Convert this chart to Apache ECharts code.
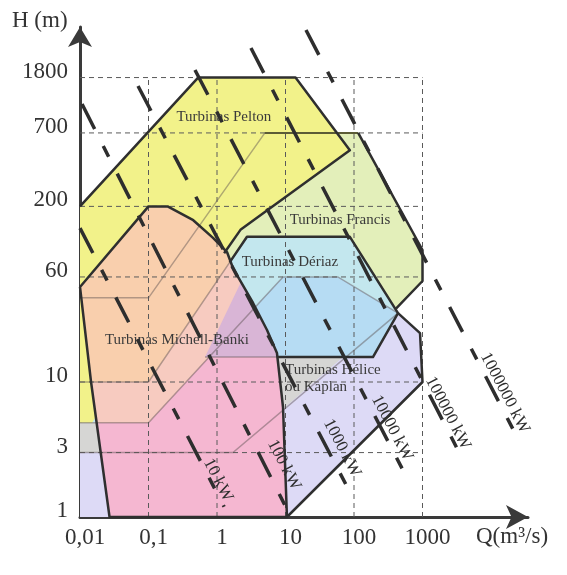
<!DOCTYPE html>
<html><head><meta charset="utf-8">
<script src="https://cdn.jsdelivr.net/npm/echarts@6/dist/echarts.min.js"></script>
<style>html,body{margin:0;padding:0;background:#fff}#c{width:567px;height:575px}</style>
</head><body><div id="c"></div>
<script>
// ---------- axis ticks ----------
const qTicks = [0.01, 0.1, 1, 10, 100, 1000];
const qTickLabels = ['0,01', '0,1', '1', '10', '100', '1000'];
const hTicks = [1, 3, 10, 60, 200, 700, 1800];
const hTickLabels = ['1', '3', '10', '60', '200', '700', '1800'];

// ---------- turbine regions (Q m3/s, H m) ----------
const pelton = [[0.01,200],[0.53,1800],[14,1800],[87,520],[2.2,134],[1.27,90],[0.105,24],[0.015,5],[0.01,5]];
const francis = [[0.01,42],[0.1,42],[5,700],[115,700],[1000,95],[1000,56],[410,35],[3,40],[0.01,10]];
const deriaz = [[0.01,10],[0.1,10],[2.74,119],[87,119],[439,32.4],[189,15.3],[0.76,15.3],[0.1,5],[0.01,5]];
const kaplan = [[0.01,5],[0.1,5],[9.2,60],[58,60],[439,32.4],[920,23],[1000,10],[10.5,1],[0.01,1]];
const deriazKaplan = [[0.76,15.3],[9.2,60],[58,60],[439,32.4],[189,15.3]];
const heliceBand = [[0.01,5],[0.1,5],[0.76,15.3],[69,15.3],[1.71,3],[0.01,3]];
const michellBanki = [[0.01,50.6],[0.1,200],[0.19,200],[0.45,158],[0.875,117],[1.4,91.8],[1.71,69.9],[3.36,38.5],[5.37,24.3],[7.5,16.4],[9.2,6.5],[10.5,1],[0.027,1],[0.0145,10]];
const banDeriaz = [[0.015,10],[0.1,10],[1.53,77],[1.71,69.9],[3.36,38.5],[5.37,24.3],[7.5,16.4],[7.78,15.3],[0.76,15.3],[0.1,5],[0.0177,5]];
const banKaplan = [[0.0177,5],[0.1,5],[0.76,15.3],[7.78,15.3],[9.2,6.5],[10.5,1],[0.027,1]];
const banMauve = [[0.668,15.3],[2.24,55],[3.36,38.5],[5.37,24.3],[7.5,16.4],[7.78,15.3]];

// ---------- outlines ----------
const peltonEdge = [[0.01,200],[0.53,1800],[14,1800],[87,520],[2.2,134],[1.27,90]];
const francisTop = [[5,700],[115,700]];
const francisEdge = [[115,700],[1000,95],[1000,56],[410,35]];
const deriazEdge = [[1.53,77],[2.74,119],[87,119],[439,32.4],[189,15.3],[7.78,15.3]];
const kaplanEdge = [[439,32.4],[920,23],[1000,10],[10.5,1]];
const bandLine1 = [[0.01,42],[0.1,42],[5,700]];
const bandLine2 = [[0.01,10],[0.1,10],[2.74,119]];
const bandLine3 = [[0.01,5],[0.1,5],[9.2,60],[58,60],[439,32.4]];
const bandLine4 = [[0.01,3],[1.71,3],[439,32.4]];
const bandLine5 = [[0.668,15.3],[7.78,15.3]];

// ---------- constant power lines ----------
const powerNames = ['10 kW', '100 kW', '1000 kW', '10000 kW', '100000 kW', '1000000 kW'];
const powerStart = [[0.01,138],[0.0107,1146],[0.0703,1560],[0.477,2050],[3.13,2980],[19.9,4050]];
const powerEnd = [[1.27,1.19],[11.2,1.07],[87,1.53],[537,2.15],[3520,2.93],[22400,4.19]];
const powerLabelAt = [[1.035,1.88],[9.5,2.43],[66.8,3.24],[359,4.56],[2355,5.89],[16000,8.3]];

// ---------- region names ----------
const regionNames = ['Turbinas Pelton', 'Turbinas Francis', 'Turbinas Dériaz', 'Turbinas Michell-Banki', 'Turbinas Hélice', 'ou Kaplan'];
const regionNameAt = [[1.26,918],[62.5,158],[11.6,77.4],[0.26,20.5],[9.84,12.3],[9.84,9.18]];

const SERIF = '"Liberation Serif", "DejaVu Serif", serif';

const zones = [
  {pts: francis, fill: '#e3efba'},
  {pts: deriaz, fill: '#c3e7ee'},
  {pts: kaplan, fill: '#dddaf6'},
  {pts: deriazKaplan, fill: '#b6dcf3'},
  {pts: heliceBand, fill: '#d6d6d4'},
  {pts: pelton, fill: '#f2f28a'},
  {pts: michellBanki, fill: '#f9cfad'},
  {pts: banDeriaz, fill: '#f7cbc0'},
  {pts: banKaplan, fill: '#f5b7d1'},
  {pts: banMauve, fill: '#d9b5d6'}
];

const gridLines = [];
hTicks.slice(1).forEach(h => gridLines.push([[qTicks[0], h], [qTicks[qTicks.length-1], h]]));
qTicks.slice(1).forEach(q => gridLines.push([[q, hTicks[0]], [q, hTicks[hTicks.length-1]]]));

const faint = [bandLine1, bandLine2, bandLine3, bandLine4, bandLine5];
const dark = [peltonEdge, francisEdge, deriazEdge, kaplanEdge, michellBanki.concat([michellBanki[0]])];
const powerLines = powerStart.map((s, i) => [s, powerEnd[i]]);

function dummy(n) { const a = []; for (let i = 0; i < n; i++) a.push([1, 1]); return a; }

function polyLineSeries(list, style, z) {
  return {
    type: 'custom', coordinateSystem: 'cartesian2d', silent: true, clip: false, z: z,
    data: dummy(list.length),
    renderItem: (p, api) => ({
      type: 'polyline',
      shape: {points: list[p.dataIndex].map(pt => api.coord(pt))},
      style: Object.assign({fill: null}, style)
    })
  };
}

function textSeries(names, at, style, rotation, z) {
  return {
    type: 'custom', coordinateSystem: 'cartesian2d', silent: true, clip: false, z: z,
    data: dummy(names.length),
    renderItem: (p, api) => {
      const c = api.coord(at[p.dataIndex]);
      return {
        type: 'text', x: c[0], y: c[1], rotation: rotation,
        style: Object.assign({text: names[p.dataIndex]}, style)
      };
    }
  };
}

function matchLabel(v, ticks, labels) {
  for (let i = 0; i < ticks.length; i++) if (Math.abs(v - ticks[i]) / ticks[i] < 1e-3) return labels[i];
  return '';
}

const chart = echarts.init(document.getElementById('c'), null, {renderer: 'canvas'});
chart.setOption({
  animation: false,
  backgroundColor: '#ffffff',
  grid: {left: 80, right: 39, top: 27, bottom: 58, containLabel: false},
  xAxis: {
    type: 'log', logBase: 10, min: 0.01, max: 34674,
    axisLine: {show: true, onZero: false, symbol: ['none', 'arrow'], symbolSize: [18, 22],
      lineStyle: {color: '#3a3a3a', width: 3}},
    axisTick: {show: false}, splitLine: {show: false}, minorTick: {show: false},
    axisLabel: {show: true, customValues: qTicks, margin: 9,
      formatter: v => matchLabel(v, qTicks, qTickLabels),
      fontFamily: SERIF, fontSize: 23, color: '#333', padding: [0, 0, 0, 10]}
  },
  yAxis: {
    type: 'log', logBase: 10, min: 1, max: 4264,
    axisLine: {show: true, onZero: false, symbol: ['none', 'arrow'], symbolSize: [18, 20],
      lineStyle: {color: '#3a3a3a', width: 3}},
    axisTick: {show: false}, splitLine: {show: false}, minorTick: {show: false},
    axisLabel: {show: true, customValues: hTicks, margin: 12,
      formatter: v => matchLabel(v, hTicks, hTickLabels),
      fontFamily: SERIF, fontSize: 23, color: '#333', verticalAlign: 'bottom', lineHeight: 12}
  },
  graphic: [
    {type: 'text', left: 12, top: 9, style: {text: 'H (m)', font: '23px ' + SERIF, fill: '#333'}},
    {type: 'text', left: 476, top: 525, style: {text: 'Q(m³/s)', font: '23px ' + SERIF, fill: '#333'}}
  ],
  series: [
    {
      type: 'custom', coordinateSystem: 'cartesian2d', silent: true, clip: false, z: 1,
      data: dummy(zones.length),
      renderItem: (p, api) => ({
        type: 'polygon',
        shape: {points: zones[p.dataIndex].pts.map(pt => api.coord(pt))},
        style: {fill: zones[p.dataIndex].fill}
      })
    },
    polyLineSeries(gridLines, {stroke: '#5a5a5a', lineWidth: 1, lineDash: [5, 4]}, 2),
    polyLineSeries(faint, {stroke: 'rgba(90,80,80,0.45)', lineWidth: 1.5}, 3),
    polyLineSeries([francisTop], {stroke: '#5c5c36', lineWidth: 2}, 3),
    polyLineSeries(dark, {stroke: '#2f2f2f', lineWidth: 2.5, lineJoin: 'round'}, 4),
    textSeries(regionNames.slice(0, 4), regionNameAt.slice(0, 4),
      {fill: '#3a3a3a', font: '15px ' + SERIF, align: 'center', verticalAlign: 'middle'}, 0, 5),
    textSeries(regionNames.slice(4), regionNameAt.slice(4),
      {fill: '#3a3a3a', font: '15px ' + SERIF, align: 'left', verticalAlign: 'middle'}, 0, 5),
    polyLineSeries(powerLines, {stroke: '#2e2e2e', lineWidth: 3.5, lineDash: [28, 19, 12, 19], lineCap: 'butt'}, 6),
    textSeries(powerNames, powerLabelAt,
      {fill: '#2e2e2e', font: '17px ' + SERIF, align: 'center', verticalAlign: 'middle'}, -1.09, 7)
  ]
});
</script>
</body></html>
